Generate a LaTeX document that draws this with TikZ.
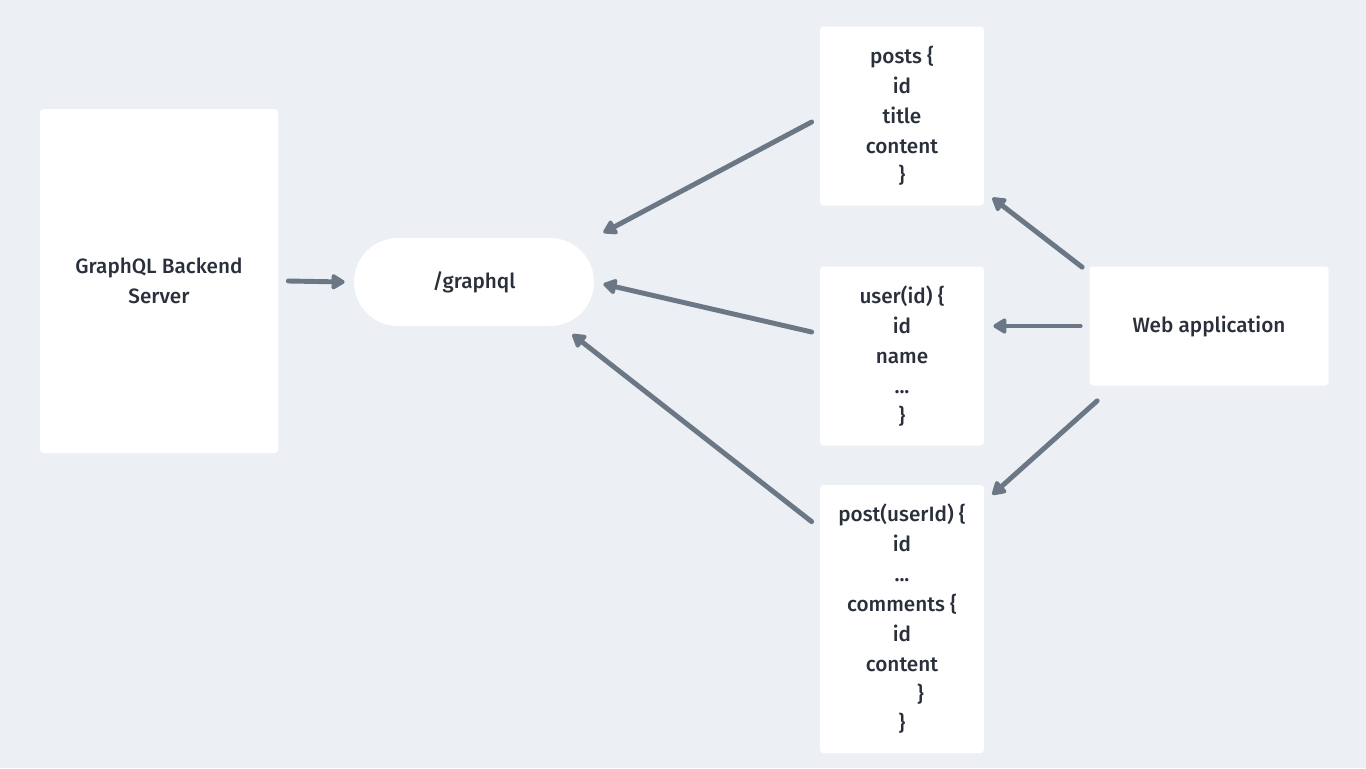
\documentclass[tikz,border=0pt]{standalone}
\usepackage{fontspec}
\setmainfont{Fira Sans}[UprightFont=* Medium]
\usetikzlibrary{arrows.meta,calc}
\definecolor{bgcol}{HTML}{ECEFF4}
\definecolor{arrcol}{HTML}{6B7785}
\definecolor{txtcol}{HTML}{2A303B}
\tikzset{
  card/.style={fill=white, rounded corners=2pt, text=txtcol, align=center, inner sep=0pt,
    font=\fontsize{11.8pt}{17pt}\selectfont},
  link/.style={draw=arrcol, line width=2.8pt, line cap=round,
    -{Triangle[length=0.3cm,width=0.34cm,round]}}
}
\begin{document}
\begin{tikzpicture}[x=0.02cm,y=-0.02cm]
\useasboundingbox[fill=bgcol] (0,0) rectangle (1366,768);
\node[card, minimum width=238*0.02cm, minimum height=344*0.02cm] (srv) at (159,281) {GraphQL Backend\\Server};
\node[card, minimum width=240*0.02cm, minimum height=88*0.02cm, rounded corners=0.88cm] (gql) at (474,282) {/graphql};
\node[card, minimum width=164*0.02cm, minimum height=179*0.02cm] (posts) at (902,116) {posts \{\\id\\title\\content\\\}};
\node[card, minimum width=164*0.02cm, minimum height=179*0.02cm] (user) at (902,356) {user(id) \{\\id\\name\\...\\\}};
\node[card, minimum width=164*0.02cm, minimum height=268*0.02cm] (post) at (902,619) {post(userId) \{\\id\\...\\comments \{\\id\\content\\\hspace*{21pt}\}\\\}};
\node[card, minimum width=239*0.02cm, minimum height=119*0.02cm] (web) at (1209,326) {Web application};
\draw[link] ($(srv.east)+(10,0)$) -- ($(gql.west)+(-9,0)$);
\draw[link] ($(posts.west)+(-8,6)$) -- ($(gql.north east)+(9,-5)$);
\draw[link] ($(user.west)+(-8,-24)$) -- ($(gql.east)+(9,2)$);
\draw[link] ($(post.north west)+(-8,37)$) -- ($(gql.south east)+(-22,8)$);
\draw[link] ($(web.north west)+(-7,1)$) -- ($(posts.south east)+(8,-8)$);
\draw[link] ($(web.west)+(-9,0)$) -- ($(user.east)+(9,-30)$);
\draw[link] ($(web.south west)+(8,15)$) -- ($(post.north east)+(8,10)$);
\end{tikzpicture}
\end{document}
